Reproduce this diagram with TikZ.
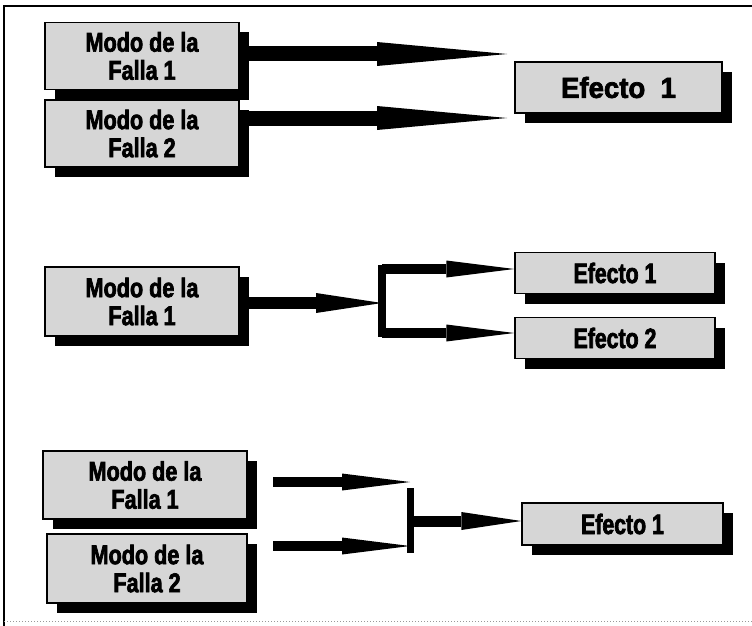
\documentclass[tikz,border=0pt]{standalone}
\usepackage{fontspec}
\setmainfont{Liberation Sans}
\newfontfamily\modofont{Liberation Sans}[FakeStretch=0.8, FakeBold=2.5]
\newfontfamily\efectofont{Liberation Sans}[FakeStretch=0.76, FakeBold=2.5]
\newfontfamily\bigfont{Liberation Sans}[FakeStretch=0.95, FakeBold=2.5]
\usetikzlibrary{arrows.meta, shadows}

\begin{document}
\begin{tikzpicture}[
  x=1pt, y=-1pt,
  box/.style={
    draw=black,
    fill=black!16,
    line width=1.3pt,
    inner sep=0pt,
    align=center,
    drop shadow={shadow xshift=10pt, shadow yshift=-10pt, fill=black, opacity=1}
  },
  modobox/.style={
    box,
    minimum width=194pt,
    minimum height=67pt,
    font=\modofont\bfseries\fontsize{27}{28}\selectfont
  },
  bigefecto/.style={
    box,
    minimum width=207pt,
    minimum height=51pt,
    font=\bigfont\bfseries\fontsize{29}{30}\selectfont
  },
  efectobox/.style={
    box,
    minimum width=200pt,
    minimum height=41pt,
    font=\efectofont\bfseries\fontsize{28}{28}\selectfont
  },
  bigarrow/.style={
    line width=15pt,
    -{Triangle[length=130pt, width=24pt, line width=0pt]}
  },
  midarrow/.style={
    line width=12pt,
    -{Triangle[length=66pt, width=20pt, line width=0pt]}
  },
  smallarrow/.style={
    line width=10pt,
    -{Triangle[length=68pt, width=17pt, line width=0pt]}
  },
  bar/.style={
    line width=8pt,
    line cap=rect
  }
]
\useasboundingbox (0,0) rectangle (752,626);

% Frame
\draw[line width=1.5pt] (4,626) -- (4,6) -- (752,6);
\draw[black!40, dotted, line width=1pt] (4,621) -- (752,621);

% ---------------- Two modes, one effect ----------------
\node[modobox] (s1m1) at (142,56) {Modo de la\\Falla 1};
\node[modobox] (s1m2) at (142,133.5) {Modo de la\\Falla 2};
\node[bigefecto] (s1e) at (618.5,87.5) {Efecto\ \ 1};

\coordinate (s1t1) at (507,54);
\coordinate (s1t2) at (507,118);
\draw[bigarrow] (s1m1.east |- s1t1) -- (s1t1);
\draw[bigarrow] (s1m2.east |- s1t2) -- (s1t2);

% ---------------- One mode, two effects ----------------
\node[modobox, minimum height=69pt] (s2m) at (142,301.5) {Modo de la\\Falla 1};
\node[efectobox] (s2e1) at (615,273) {Efecto 1};
\node[efectobox] (s2e2) at (615,338) {Efecto 2};

\coordinate (s2j) at (382,303);
\coordinate (s2b1) at (382,269);
\coordinate (s2b2) at (382,333);
\draw[midarrow] (s2m.east |- s2j) -- (s2j);
\draw[bar] (s2b1) -- (s2b2);
\draw[smallarrow] (s2b1) -- (s2b1 -| s2e1.west);
\draw[smallarrow] (s2b2) -- (s2b2 -| s2e2.west);

% ---------------- Two modes, one effect ----------------
\node[modobox, minimum width=204pt, minimum height=68pt] (s3m1) at (145,485) {Modo de la\\Falla 1};
\node[modobox, minimum width=200pt, minimum height=69pt] (s3m2) at (147,568.5) {Modo de la\\Falla 2};
\node[efectobox, minimum width=201pt, minimum height=42pt] (s3e) at (622.5,524) {Efecto 1};

\coordinate (s3a1) at (273,482);
\coordinate (s3a2) at (273,546);
\coordinate (s3j) at (410,521);
\coordinate (s3b1) at (410,491);
\coordinate (s3b2) at (410,549);
\draw[smallarrow] (s3a1) -- (s3a1 -| s3j);
\draw[smallarrow] (s3a2) -- (s3a2 -| s3j);
\draw[bar, line width=7pt] (s3b1) -- (s3b2);
\draw[smallarrow, line width=11pt, -{Triangle[length=60pt, width=18pt, line width=0pt]}] (s3j) -- (s3j -| s3e.west);

\end{tikzpicture}
\end{document}
